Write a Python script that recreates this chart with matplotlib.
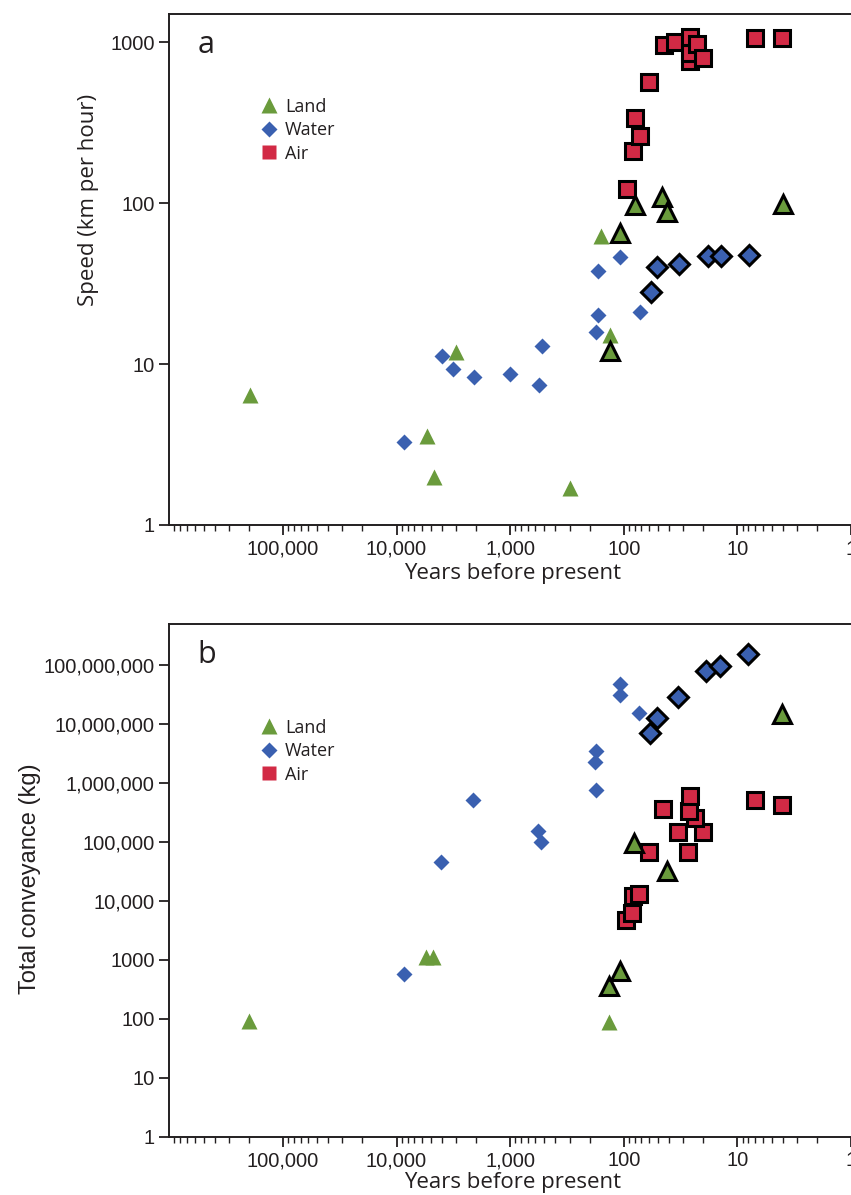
import matplotlib
matplotlib.use("Agg")
import matplotlib.pyplot as plt
from matplotlib.lines import Line2D
from matplotlib.ticker import FixedLocator, FixedFormatter, LogLocator, NullFormatter

# ---------------- data: panel a (speed, km per hour) ----------------
a_land_years = [195000, 5390, 4710, 2975, 296, 158, 131]
a_land_vals = [6.4, 3.56, 1.99, 11.8, 1.69, 62.6, 15.1]
a_land_hl_years = [131, 107, 79.4, 45.7, 41.3, 3.97]
a_land_hl_vals = [12.1, 64.8, 97.2, 109, 87.5, 98.6]
a_water_years = [8530, 4010, 3190, 2066, 1011, 559, 522, 175, 169, 169, 107.7, 72.3]
a_water_vals = [3.26, 11.2, 9.27, 8.27, 8.67, 7.37, 12.9, 15.9, 20.2, 37.7, 46, 21]
a_water_hl_years = [57.4, 50.6, 32.8, 18.0, 14.0, 7.96]
a_water_hl_vals = [27.9, 39.9, 41.8, 46.9, 46.9, 47.5]
a_air_years = [94.1, 82.7, 72.3, 80, 59.4, 44.5, 35.1, 25.9, 25.9, 25.9, 22.8, 19.9, 7.0, 4.03]
a_air_vals = [123, 211, 261, 336, 562, 958, 1004, 765, 851, 1079, 972, 800, 1054, 1054]

# ---------------- data: panel b (total conveyance, kg) ----------------
b_land_years = [198000, 5460, 4745, 134]
b_land_vals = [92, 1099, 1099, 86]
b_land_hl_years = [134, 109, 81.7, 41.9, 4.05]
b_land_hl_vals = [353, 635, 93200, 31900, 1.47e7]
b_water_years = [8650, 4080, 2110, 570, 532, 174, 178, 174, 109, 109, 73.8]
b_water_vals = [574, 46000, 514000, 153000, 96900, 3.5e6, 2.22e6, 751000, 4.77e7, 3.02e7, 1.51e7]
b_water_hl_years = [58.6, 51.3, 33.5, 18.9, 14.2, 8.05]
b_water_hl_vals = [7.0e6, 1.245e7, 2.83e7, 7.84e7, 9.55e7, 1.49e8]
b_air_years = [95.3, 84.3, 82.2, 73.8, 60.2, 27.4, 33.5, 20.2, 23.4, 26.9, 44.8, 25.9, 7.0, 4.05]
b_air_vals = [4680, 6250, 12000, 12800, 67100, 67100, 147000, 143000, 248000, 334000, 357000, 601000, 514000, 423000]

x_ticks = [1e5, 1e4, 1e3, 1e2, 10, 1]
x_ticklabels = ["100,000", "10,000", "1,000", "100", "10", "1"]
a_yticks = [1, 10, 100, 1000]
a_yticklabels = ["1", "10", "100", "1000"]
b_yticks = [1, 10, 100, 1000, 1e4, 1e5, 1e6, 1e7, 1e8]
b_yticklabels = ["1", "10", "100", "1000", "10,000", "100,000", "1,000,000",
                 "10,000,000", "100,000,000"]
legend_labels = ["Land", "Water", "Air"]

GREEN = "#6a9b3c"
BLUE = "#3a60b0"
RED = "#d22a45"
INK = "#231f20"
HUM = ["Open Sans", "DejaVu Sans"]
HEL = ["Liberation Sans", "DejaVu Sans"]

W, H = 851, 1195
fig = plt.figure(figsize=(W / 100, H / 100), dpi=100)

L = 169.3 / W
axa = fig.add_axes([L, 1 - 525 / H, 1 - L, (525 - 14) / H])
axb = fig.add_axes([L, 1 - 1136.5 / H, 1 - L, (1136.5 - 624) / H])


def style(ax, yticks, yticklabels, ylim):
    ax.set_xscale("log")
    ax.set_yscale("log")
    ax.set_xlim(1e6, 1)
    ax.set_ylim(*ylim)
    ax.spines["right"].set_visible(False)
    for s in ["left", "top", "bottom"]:
        ax.spines[s].set_linewidth(1.4)
        ax.spines[s].set_color(INK)
    ax.xaxis.set_major_locator(FixedLocator(x_ticks))
    ax.xaxis.set_major_formatter(FixedFormatter(x_ticklabels))
    ax.xaxis.set_minor_locator(LogLocator(base=10, subs=range(2, 10), numticks=20))
    ax.xaxis.set_minor_formatter(NullFormatter())
    ax.yaxis.set_major_locator(FixedLocator(yticks))
    ax.yaxis.set_major_formatter(FixedFormatter(yticklabels))
    ax.yaxis.set_minor_locator(FixedLocator([]))
    ax.tick_params(axis="both", which="major", direction="out", length=7, width=1.3,
                   color=INK, labelsize=14.5, labelcolor=INK, pad=3.5)
    ax.tick_params(axis="x", which="minor", direction="out", length=4, width=1.0, color=INK)
    for lab in ax.get_xticklabels() + ax.get_yticklabels():
        lab.set_family(HEL)


def draw(ax, land, land_hl, water, water_hl, air):
    ax.plot(*land, ls="none", marker="^", ms=11.5, mfc=GREEN, mec="none", zorder=3)
    ax.plot(*water, ls="none", marker="D", ms=8.2, mfc=BLUE, mec="none", zorder=3)
    ax.plot(*air, ls="none", marker="s", ms=12.0, mfc=RED, mec="black", mew=2.2, zorder=4)
    ax.plot(*water_hl, ls="none", marker="D", ms=10.0, mfc=BLUE, mec="black", mew=2.2, zorder=5)
    ax.plot(*land_hl, ls="none", marker="^", ms=13.5, mfc=GREEN, mec="black", mew=2.2, zorder=5)


def legend(ax, anchor):
    handles = [
        Line2D([], [], ls="none", marker="^", ms=11.5, mfc=GREEN, mec="none"),
        Line2D([], [], ls="none", marker="D", ms=8.2, mfc=BLUE, mec="none"),
        Line2D([], [], ls="none", marker="s", ms=9.6, mfc=RED, mec="none"),
    ]
    leg = ax.legend(handles, legend_labels, loc="upper left", bbox_to_anchor=anchor,
                    frameon=False, borderpad=0, borderaxespad=0, handlelength=1.0,
                    handletextpad=0.4, labelspacing=0.3,
                    prop={"family": HUM, "size": 13})
    for t in leg.get_texts():
        t.set_color(INK)


style(axa, a_yticks, a_yticklabels, (1, 1493))
draw(axa, (a_land_years, a_land_vals), (a_land_hl_years, a_land_hl_vals),
     (a_water_years, a_water_vals), (a_water_hl_years, a_water_hl_vals),
     (a_air_years, a_air_vals))
legend(axa, (0.1325, 0.836))
axa.text(0.054, 0.939, "a", transform=axa.transAxes, ha="center", va="center",
         fontsize=22, family=HUM, color=INK)
axa.set_xlabel("Years before present", family=HUM, fontsize=16, color=INK)
axa.xaxis.label.set_verticalalignment("center")
axa.xaxis.set_label_coords(0.503, -0.094)
axa.set_ylabel("Speed (km per hour)", family=HUM, fontsize=16, color=INK)
axa.yaxis.label.set_verticalalignment("center")
axa.yaxis.set_label_coords(-0.119, 0.636)

style(axb, b_yticks, b_yticklabels, (1, 4.9e8))
draw(axb, (b_land_years, b_land_vals), (b_land_hl_years, b_land_hl_vals),
     (b_water_years, b_water_vals), (b_water_hl_years, b_water_hl_vals),
     (b_air_years, b_air_vals))
legend(axb, (0.1325, 0.815))
axb.text(0.055, 0.9395, "b", transform=axb.transAxes, ha="center", va="center",
         fontsize=22, family=HUM, color=INK)
axb.set_xlabel("Years before present", family=HUM, fontsize=16, color=INK)
axb.xaxis.label.set_verticalalignment("center")
axb.xaxis.set_label_coords(0.503, -0.0907)
axb.set_ylabel("Total conveyance (kg)", family=HEL, fontsize=17, color=INK)
axb.yaxis.label.set_verticalalignment("center")
axb.yaxis.set_label_coords(-0.204, 0.504)

fig.savefig("out.png", dpi=100)
